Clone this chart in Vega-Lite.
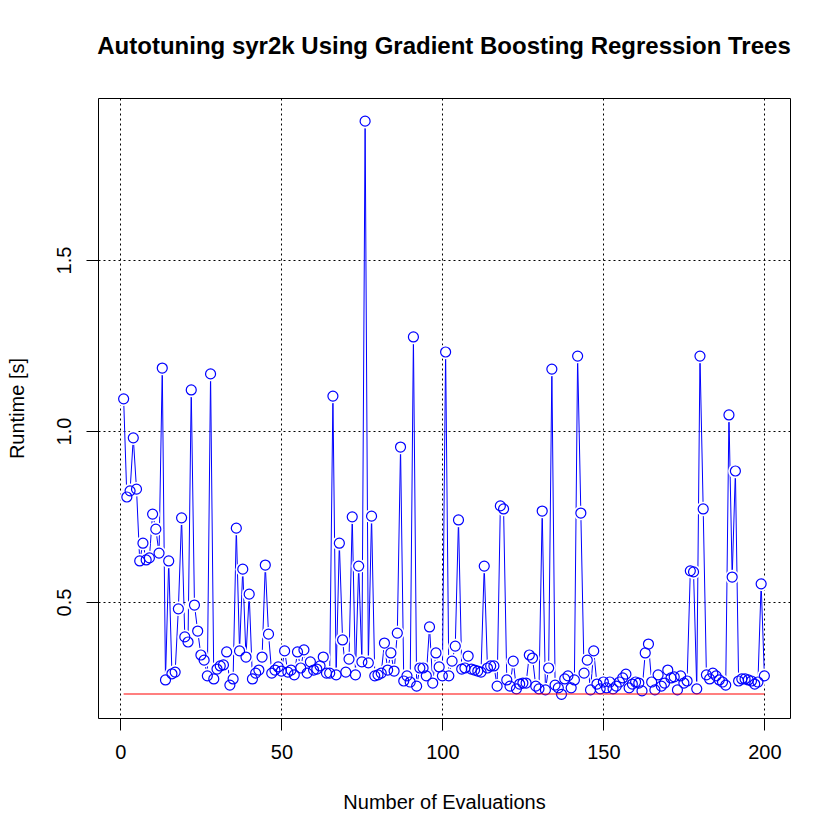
{
  "$schema": "https://vega.github.io/schema/vega-lite/v6.json",
  "width": 692,
  "height": 620,
  "autosize": "none",
  "padding": {"left": 98, "top": 98, "right": 50, "bottom": 122},
  "background": "white",
  "title": {
    "text": "Autotuning syr2k Using Gradient Boosting Regression Trees",
    "font": "Liberation Sans",
    "fontSize": 24,
    "fontWeight": "bold",
    "color": "black",
    "anchor": "middle",
    "offset": 39
  },
  "config": {
    "view": {"stroke": "black", "strokeWidth": 1},
    "axis": {
      "labelFont": "Liberation Sans",
      "titleFont": "Liberation Sans",
      "labelFontSize": 20,
      "titleFontSize": 20,
      "titleFontWeight": "normal",
      "labelColor": "black",
      "titleColor": "black",
      "tickColor": "black",
      "tickSize": 12,
      "tickWidth": 1,
      "domain": false,
      "grid": true,
      "gridColor": "black",
      "gridDash": [2, 3],
      "gridWidth": 1,
      "gridOpacity": 1
    }
  },
  "datasets": {
    "runs": [
      {"i":1,"v":1.094},{"i":2,"v":0.807},{"i":3,"v":0.825},{"i":4,"v":0.98},{"i":5,"v":0.83},
      {"i":6,"v":0.62},{"i":7,"v":0.672},{"i":8,"v":0.623},{"i":9,"v":0.629},{"i":10,"v":0.757},
      {"i":11,"v":0.713},{"i":12,"v":0.643},{"i":13,"v":1.184},{"i":14,"v":0.272},{"i":15,"v":0.62},
      {"i":16,"v":0.29},{"i":17,"v":0.295},{"i":18,"v":0.48},{"i":19,"v":0.746},{"i":20,"v":0.398},
      {"i":21,"v":0.383},{"i":22,"v":1.12},{"i":23,"v":0.491},{"i":24,"v":0.415},{"i":25,"v":0.345},
      {"i":26,"v":0.33},{"i":27,"v":0.284},{"i":28,"v":1.167},{"i":29,"v":0.275},{"i":30,"v":0.304},
      {"i":31,"v":0.313},{"i":32,"v":0.316},{"i":33,"v":0.354},{"i":34,"v":0.257},{"i":35,"v":0.275},
      {"i":36,"v":0.716},{"i":37,"v":0.357},{"i":38,"v":0.596},{"i":39,"v":0.339},{"i":40,"v":0.523},
      {"i":41,"v":0.275},{"i":42,"v":0.292},{"i":43,"v":0.301},{"i":44,"v":0.339},{"i":45,"v":0.608},
      {"i":46,"v":0.406},{"i":47,"v":0.292},{"i":48,"v":0.301},{"i":49,"v":0.31},{"i":50,"v":0.298},
      {"i":51,"v":0.357},{"i":52,"v":0.295},{"i":53,"v":0.301},{"i":54,"v":0.287},{"i":55,"v":0.354},
      {"i":56,"v":0.307},{"i":57,"v":0.36},{"i":58,"v":0.292},{"i":59,"v":0.325},{"i":60,"v":0.301},
      {"i":61,"v":0.304},{"i":62,"v":0.313},{"i":63,"v":0.339},{"i":64,"v":0.292},{"i":65,"v":0.292},
      {"i":66,"v":1.102},{"i":67,"v":0.287},{"i":68,"v":0.672},{"i":69,"v":0.389},{"i":70,"v":0.295},
      {"i":71,"v":0.333},{"i":72,"v":0.749},{"i":73,"v":0.287},{"i":74,"v":0.605},{"i":75,"v":0.325},
      {"i":76,"v":1.906},{"i":77,"v":0.322},{"i":78,"v":0.751},{"i":79,"v":0.284},{"i":80,"v":0.287},
      {"i":81,"v":0.292},{"i":82,"v":0.38},{"i":83,"v":0.301},{"i":84,"v":0.351},{"i":85,"v":0.298},
      {"i":86,"v":0.409},{"i":87,"v":0.953},{"i":88,"v":0.269},{"i":89,"v":0.284},{"i":90,"v":0.266},
      {"i":91,"v":1.275},{"i":92,"v":0.254},{"i":93,"v":0.307},{"i":94,"v":0.307},{"i":95,"v":0.284},
      {"i":96,"v":0.427},{"i":97,"v":0.263},{"i":98,"v":0.351},{"i":99,"v":0.31},{"i":100,"v":0.284},
      {"i":101,"v":1.231},{"i":102,"v":0.284},{"i":103,"v":0.327},{"i":104,"v":0.371},{"i":105,"v":0.74},
      {"i":106,"v":0.304},{"i":107,"v":0.307},{"i":108,"v":0.342},{"i":109,"v":0.304},{"i":110,"v":0.301},
      {"i":111,"v":0.298},{"i":112,"v":0.295},{"i":113,"v":0.605},{"i":114,"v":0.307},{"i":115,"v":0.313},
      {"i":116,"v":0.313},{"i":117,"v":0.254},{"i":118,"v":0.781},{"i":119,"v":0.772},{"i":120,"v":0.272},
      {"i":121,"v":0.254},{"i":122,"v":0.327},{"i":123,"v":0.246},{"i":124,"v":0.26},{"i":125,"v":0.263},
      {"i":126,"v":0.263},{"i":127,"v":0.345},{"i":128,"v":0.336},{"i":129,"v":0.254},{"i":130,"v":0.246},
      {"i":131,"v":0.766},{"i":132,"v":0.243},{"i":133,"v":0.307},{"i":134,"v":1.181},{"i":135,"v":0.257},
      {"i":136,"v":0.249},{"i":137,"v":0.23},{"i":138,"v":0.275},{"i":139,"v":0.284},{"i":140,"v":0.249},
      {"i":141,"v":0.272},{"i":142,"v":1.219},{"i":143,"v":0.76},{"i":144,"v":0.292},{"i":145,"v":0.33},
      {"i":146,"v":0.243},{"i":147,"v":0.357},{"i":148,"v":0.26},{"i":149,"v":0.246},{"i":150,"v":0.266},
      {"i":151,"v":0.249},{"i":152,"v":0.266},{"i":153,"v":0.246},{"i":154,"v":0.254},{"i":155,"v":0.266},
      {"i":156,"v":0.278},{"i":157,"v":0.289},{"i":158,"v":0.249},{"i":159,"v":0.26},{"i":160,"v":0.266},
      {"i":161,"v":0.263},{"i":162,"v":0.24},{"i":163,"v":0.351},{"i":164,"v":0.377},{"i":165,"v":0.266},
      {"i":166,"v":0.243},{"i":167,"v":0.287},{"i":168,"v":0.254},{"i":169,"v":0.263},{"i":170,"v":0.301},
      {"i":171,"v":0.278},{"i":172,"v":0.281},{"i":173,"v":0.243},{"i":174,"v":0.284},{"i":175,"v":0.263},
      {"i":176,"v":0.269},{"i":177,"v":0.591},{"i":178,"v":0.588},{"i":179,"v":0.246},{"i":180,"v":1.219},
      {"i":181,"v":0.772},{"i":182,"v":0.287},{"i":183,"v":0.275},{"i":184,"v":0.292},{"i":185,"v":0.284},
      {"i":186,"v":0.272},{"i":187,"v":0.266},{"i":188,"v":0.257},{"i":189,"v":1.047},{"i":190,"v":0.573},
      {"i":191,"v":0.883},{"i":192,"v":0.269},{"i":193,"v":0.275},{"i":194,"v":0.275},{"i":195,"v":0.272},
      {"i":196,"v":0.269},{"i":197,"v":0.26},{"i":198,"v":0.266},{"i":199,"v":0.553},{"i":200,"v":0.284}
    ],
    "best": [{"x1": 1, "x2": 200, "y": 0.231}]
  },
  "layer": [
    {
      "data": {"name": "runs"},
      "mark": {"type": "line", "color": "#0000ff", "strokeWidth": 1, "clip": true},
      "encoding": {
        "x": {
          "field": "i", "type": "quantitative",
          "scale": {"domain": [-6.96, 207.96], "nice": false, "zero": false},
          "axis": {
            "values": [0, 50, 100, 150, 200],
            "title": "Number of Evaluations",
            "labelPadding": 12,
            "titleY": 84,
            "titleBaseline": "middle"
          }
        },
        "y": {
          "field": "v", "type": "quantitative",
          "scale": {"domain": [0.1608, 1.9737], "nice": false, "zero": false},
          "axis": {
            "values": [0.5, 1.0, 1.5],
            "format": ".1f",
            "title": "Runtime [s]",
            "labelAngle": -90,
            "labelAlign": "center",
            "labelBaseline": "bottom",
            "labelPadding": 12,
            "titleX": -81,
            "titleBaseline": "middle",
            "titleAngle": -90
          }
        }
      }
    },
    {
      "data": {"name": "runs"},
      "mark": {"type": "point", "shape": "circle", "filled": true, "color": "white", "opacity": 1, "size": 210},
      "encoding": {
        "x": {"field": "i", "type": "quantitative"},
        "y": {"field": "v", "type": "quantitative"}
      }
    },
    {
      "data": {"name": "runs"},
      "mark": {"type": "point", "shape": "circle", "filled": false, "color": "#0000ff", "opacity": 1, "size": 100, "strokeWidth": 1.2},
      "encoding": {
        "x": {"field": "i", "type": "quantitative"},
        "y": {"field": "v", "type": "quantitative"}
      }
    },
    {
      "data": {"name": "best"},
      "mark": {"type": "rule", "color": "#ff0000", "strokeWidth": 1.1},
      "encoding": {
        "x": {"field": "x1", "type": "quantitative"},
        "x2": {"field": "x2"},
        "y": {"field": "y", "type": "quantitative"}
      }
    }
  ]
}
